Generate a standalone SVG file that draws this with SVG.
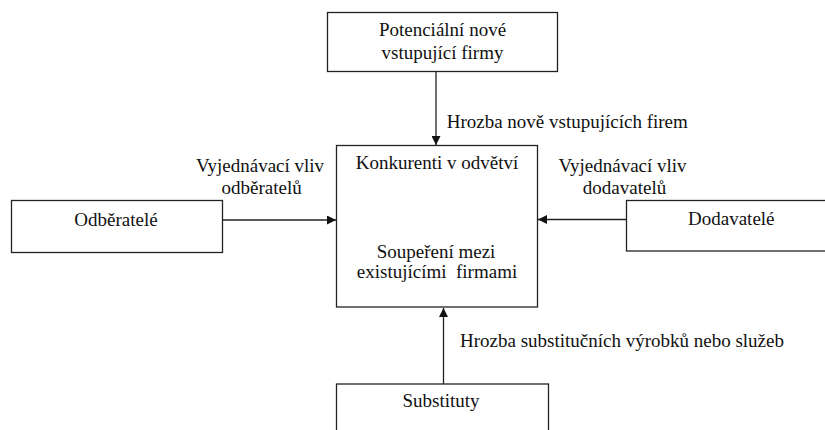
<svg xmlns="http://www.w3.org/2000/svg" width="825" height="430" viewBox="0 0 825 430">
<style>
.box{fill:#fff;stroke:#222;stroke-width:1.3}
.t{font-family:"Liberation Serif","Times New Roman",serif;font-size:19px;fill:#111;white-space:pre}
.c{text-anchor:middle}
.ln{stroke:#222;stroke-width:1.3;fill:none}
</style>
<defs>
<marker id="ah" viewBox="0 0 10 10" refX="10" refY="5" markerWidth="9" markerHeight="9" markerUnits="userSpaceOnUse" orient="auto">
<path d="M0,0 L10,5 L0,10 Z" fill="#111"/>
</marker>
</defs>
<rect width="825" height="430" fill="#fff"/>
<g id="connectors">
<line class="ln" x1="436" y1="71.5" x2="436" y2="145" marker-end="url(#ah)"/>
<line class="ln" x1="222.5" y1="220" x2="336" y2="220" marker-end="url(#ah)"/>
<line class="ln" x1="626.5" y1="219.5" x2="538" y2="219.5" marker-end="url(#ah)"/>
<line class="ln" x1="443.5" y1="384" x2="443.5" y2="308" marker-end="url(#ah)"/>
<text class="t" x="446.7" y="128">Hrozba nově vstupujících firem</text>
<text class="t c" x="260" y="171.7">Vyjednávací vliv</text>
<text class="t c" x="261.7" y="194">odběratelů</text>
<text class="t c" x="622.5" y="171.7">Vyjednávací vliv</text>
<text class="t c" x="624.5" y="194">dodavatelů</text>
<text class="t" x="460" y="347">Hrozba substitučních výrobků nebo služeb</text>
</g>
<g id="node-potencialni">
<rect class="box" x="327.5" y="12.5" width="230" height="59"/>
<text class="t c" x="442.5" y="35.5">Potenciální nové</text>
<text class="t c" x="442.5" y="58.5">vstupující firmy</text>
</g>
<g id="node-konkurenti">
<rect class="box" x="336.5" y="145.5" width="201" height="161.5"/>
<text class="t c" x="437" y="169.3">Konkurenti v odvětví</text>
<text class="t c" x="436" y="258.3">Soupeření mezi</text>
<text class="t c" x="437" y="278.3">existujícími  firmami</text>
</g>
<g id="node-odberatele">
<rect class="box" x="11.5" y="200.5" width="211" height="52"/>
<text class="t c" x="116" y="226">Odběratelé</text>
</g>
<g id="node-dodavatele">
<rect class="box" x="626.5" y="200.5" width="210" height="50.5"/>
<text class="t c" x="731.3" y="225">Dodavatelé</text>
</g>
<g id="node-substituty">
<rect class="box" x="336.5" y="384" width="212" height="60"/>
<text class="t c" x="441" y="406.7">Substituty</text>
</g>
</svg>
